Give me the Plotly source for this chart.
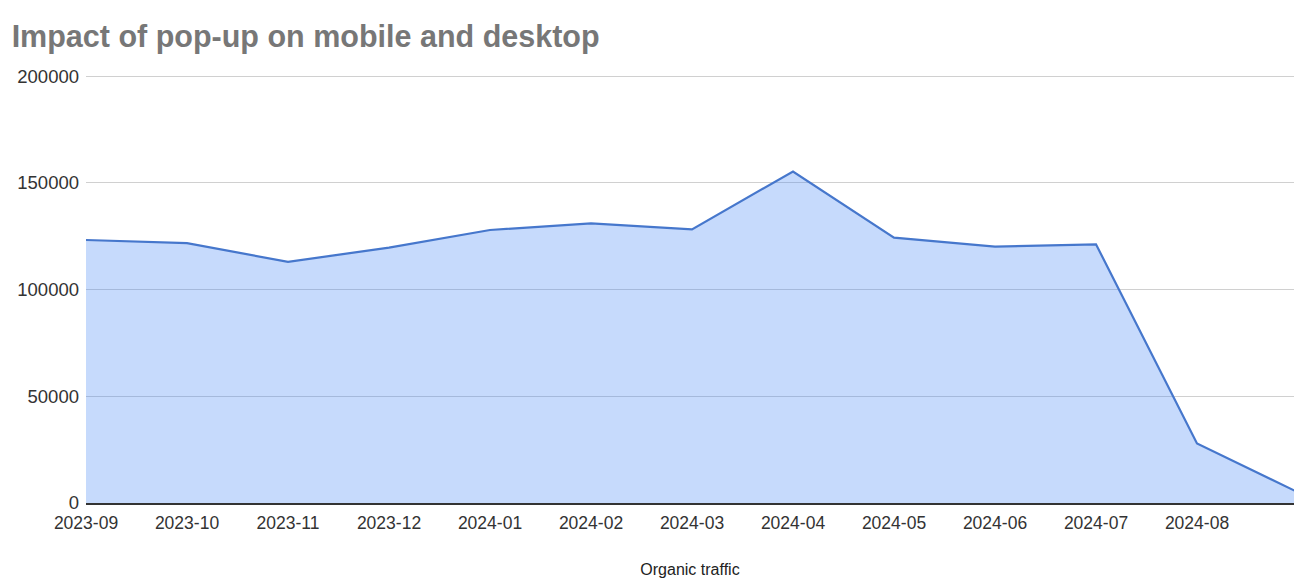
import plotly.graph_objects as go

months = ["2023-09", "2023-10", "2023-11", "2023-12", "2024-01", "2024-02",
          "2024-03", "2024-04", "2024-05", "2024-06", "2024-07", "2024-08", "2024-09"]
organic_traffic = [123200, 121700, 113000, 119600, 127900, 131000,
                   128200, 155300, 124300, 120100, 121200, 27900, 5000]
tick_labels = months[:12]
y_ticks = [0, 50000, 100000, 150000, 200000]

x_idx = list(range(len(months)))

fig = go.Figure()
fig.add_trace(go.Scatter(
    x=x_idx, y=organic_traffic, mode="lines", fill="tozeroy",
    line=dict(color="#4677cc", width=2.2),
    fillcolor="rgba(66,133,244,0.30)",
    name="Organic traffic", showlegend=False,
    customdata=months, hovertemplate="%{customdata}: %{y}<extra></extra>",
))

fig.update_layout(
    width=1294, height=579,
    margin=dict(l=86, r=0, t=75, b=76),
    paper_bgcolor="white", plot_bgcolor="white",
    font=dict(family="Liberation Sans, Arial, sans-serif", color="#333333"),
    title=dict(text="<b>Impact of pop-up on mobile and desktop</b>",
               x=0.009, xanchor="left", y=0.937, yanchor="middle",
               font=dict(size=30.5, color="#777777")),
)
fig.update_xaxes(
    range=[0, 12 * 1208 / 1212],
    tickmode="array", tickvals=list(range(len(tick_labels))), ticktext=tick_labels,
    showgrid=False, showline=True, linecolor="#333333", linewidth=2,
    ticks="", ticklabelstandoff=3, tickfont=dict(size=17.5, color="#333333"),
    title=dict(text="Organic traffic", font=dict(size=16, color="#222222"), standoff=32),
    zeroline=False,
)
fig.update_yaxes(
    range=[0, 200500], tickmode="array", tickvals=y_ticks,
    ticktext=[str(v) for v in y_ticks],
    showgrid=True, gridcolor="#d0d0d0", gridwidth=1,
    zeroline=False, ticks="", ticklabelstandoff=6,
    tickfont=dict(size=18.5, color="#333333"),
)

fig.write_html("out.html")
